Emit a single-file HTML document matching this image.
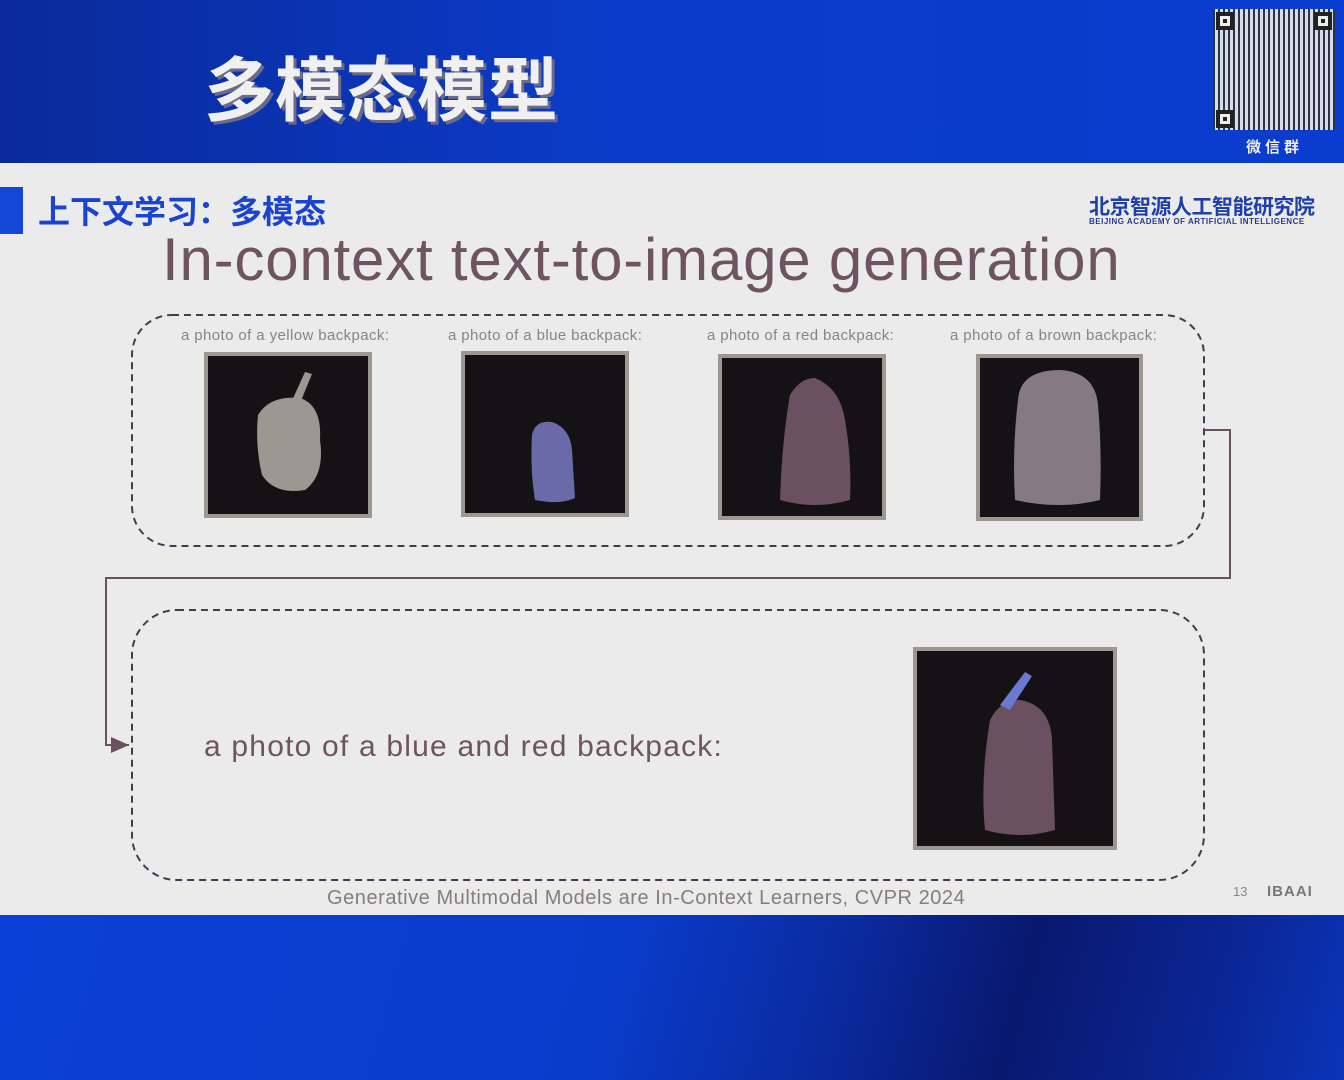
<!DOCTYPE html>
<html><head><meta charset="utf-8"><style>
*{margin:0;padding:0;box-sizing:border-box}
body{width:1344px;height:1080px;overflow:hidden;position:relative;background:#ebebeb;font-family:"Liberation Sans","Noto Sans CJK SC",sans-serif}
.top{position:absolute;left:0;top:0;width:1344px;height:163px;background:linear-gradient(90deg,#0a2a9a 0%,#0b3bc8 45%,#0a3ccf 100%)}
.bot{position:absolute;left:0;top:915px;width:1344px;height:165px;background:linear-gradient(105deg,#0b40d6 0%,#0a3ccc 45%,#0a2a9e 62%,#08186e 75%,#0a2490 88%,#0a34b8 100%)}
.t{position:absolute;white-space:nowrap}
.cap{font-size:15px;color:#8a8480;letter-spacing:0.4px}
</style></head><body>
<div class="top"></div>
<div class="t" style="left:204px;top:46px;font-size:70px;font-weight:bold;color:#f0f0f0;letter-spacing:1px;text-shadow:3px 3px 0 #6a6a8a;font-family:'Noto Sans CJK SC',sans-serif;line-height:80px">多模态模型</div>
<div style="position:absolute;left:1213px;top:9px;width:122px;height:121px;background:#eee;background-image:repeating-linear-gradient(90deg,#333 0 2px,transparent 2px 5px),repeating-linear-gradient(0deg,#eee 0 2px,transparent 2px 4px);opacity:.9"></div>
<div style="position:absolute;left:1216px;top:12px;width:18px;height:18px;border:4px solid #222;background:#eee;box-shadow:inset 0 0 0 3px #eee,inset 0 0 0 10px #222"></div>
<div style="position:absolute;left:1314px;top:12px;width:18px;height:18px;border:4px solid #222;background:#eee;box-shadow:inset 0 0 0 3px #eee,inset 0 0 0 10px #222"></div>
<div style="position:absolute;left:1216px;top:110px;width:18px;height:18px;border:4px solid #222;background:#eee;box-shadow:inset 0 0 0 3px #eee,inset 0 0 0 10px #222"></div>
<div class="t" style="left:1246px;top:136px;font-size:15px;color:#eee;font-weight:bold;letter-spacing:4px;font-family:'Noto Sans CJK SC',sans-serif">微信群</div>

<div style="position:absolute;left:0;top:187px;width:23px;height:47px;background:#1446d8"></div>
<div class="t" style="left:38px;top:188px;font-size:32px;font-weight:bold;color:#1a44d0;font-family:'Noto Sans CJK SC',sans-serif;line-height:44px">上下文学习：多模态</div>
<div class="t" style="left:1089px;top:193px;font-size:21px;font-weight:bold;color:#1e3fa8;font-family:'Noto Sans CJK SC',sans-serif;line-height:26px;letter-spacing:-0.5px">北京智源人工智能研究院</div>
<div class="t" style="left:1089px;top:217px;font-size:8px;font-weight:bold;color:#2a3a8a;letter-spacing:0.5px">BEIJING ACADEMY OF ARTIFICIAL INTELLIGENCE</div>

<div class="t" style="left:162px;top:224px;font-size:60px;color:#6e5460;line-height:72px;letter-spacing:0.8px">In-context text-to-image generation</div>

<svg style="position:absolute;left:0;top:0" width="1344" height="1080">
<defs><marker id="ar" markerWidth="10" markerHeight="10" refX="9" refY="5" orient="auto"><path d="M0,1 L9,5 L0,9 z" fill="#6a5060"/></marker></defs>
<rect x="132" y="315" width="1072" height="231" rx="40" fill="none" stroke="#4a3a50" stroke-width="2" stroke-dasharray="7,5"/>
<rect x="132" y="610" width="1072" height="270" rx="45" fill="none" stroke="#4a3a50" stroke-width="2" stroke-dasharray="7,5"/>
<polyline points="1204,430 1230,430 1230,578 106,578 106,745 129,745" fill="none" stroke="#6a5060" stroke-width="2" marker-end="url(#ar)"/>
<g stroke="#9c9891" stroke-width="4" fill="#141214">
<rect x="206" y="354" width="164" height="162"/>
<rect x="463" y="353" width="164" height="162"/>
<rect x="720" y="356" width="164" height="162"/>
<rect x="978" y="356" width="163" height="163"/>
<rect x="915" y="649" width="200" height="199"/>
</g>
<path d="M258,415 Q270,395 300,398 Q322,405 320,440 Q325,475 305,490 Q275,495 262,475 Q255,445 258,415Z" fill="#9c9891"/>
<path d="M290,405 L305,372 L312,374 L298,408Z" fill="#9c9891"/>
<path d="M532,435 Q535,420 552,422 Q570,428 572,450 L575,498 Q560,505 535,500 Q530,470 532,435Z" fill="#6a6aa8"/>
<path d="M790,395 Q800,378 815,378 Q840,388 845,420 Q852,460 850,500 Q815,510 780,500 Q782,440 790,395Z" fill="#6a5060"/>
<path d="M1018,400 Q1020,370 1060,370 Q1095,372 1098,405 Q1102,450 1100,500 Q1060,510 1015,500 Q1012,450 1018,400Z" fill="#857a80"/>
<path d="M990,720 Q1000,700 1020,700 Q1050,705 1052,740 L1055,830 Q1020,840 985,830 Q980,780 990,720Z" fill="#6a5060"/>
<path d="M1000,705 L1025,672 L1032,676 L1010,710Z" fill="#6a7ad0"/>
</svg>

<div class="t cap" style="left:181px;top:327px">a photo of a yellow backpack:</div>
<div class="t cap" style="left:448px;top:327px">a photo of a blue backpack:</div>
<div class="t cap" style="left:707px;top:327px">a photo of a red backpack:</div>
<div class="t cap" style="left:950px;top:327px">a photo of a brown backpack:</div>
<div class="t" style="left:204px;top:730px;font-size:30px;color:#6e5460;letter-spacing:1.2px">a photo of a blue and red backpack:</div>

<div class="t" style="left:327px;top:887px;font-size:20px;color:#857e7a;letter-spacing:0.55px">Generative Multimodal Models are In-Context Learners, CVPR 2024</div>
<div class="t" style="left:1233px;top:884px;font-size:13px;color:#888">13</div>
<div class="t" style="left:1267px;top:883px;font-size:15px;font-weight:bold;color:#777;letter-spacing:1px">IBAAI</div>
<div class="bot"></div>
</body></html>
